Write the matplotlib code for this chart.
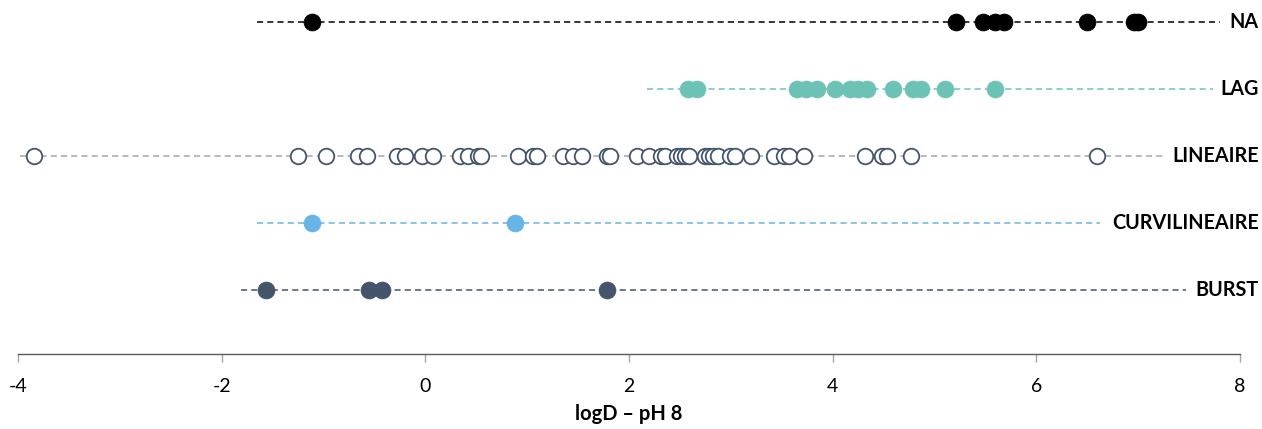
import matplotlib
matplotlib.use("Agg")
import matplotlib.pyplot as plt

plt.rcParams['font.family'] = ['Lato', 'DejaVu Sans']

categories = ["NA", "LAG", "LINEAIRE", "CURVILINEAIRE", "BURST"]

na_values = [-1.11, 5.21, 5.48, 5.59, 5.68, 6.50, 6.96, 7.00]
lag_values = [2.58, 2.67, 3.65, 3.74, 3.85, 4.02, 4.17, 4.25, 4.34, 4.59,
              4.79, 4.87, 5.10, 5.59]
lineaire_values = [-3.84, -1.25, -0.98, -0.66, -0.57, -0.28, -0.20, -0.03, 0.08,
                   0.34, 0.42, 0.52, 0.55, 0.91, 1.06, 1.10, 1.35, 1.45, 1.54,
                   1.78, 1.81, 2.08, 2.20, 2.31, 2.35, 2.47, 2.51, 2.55, 2.59,
                   2.75, 2.79, 2.82, 2.87, 2.99, 3.04, 3.20, 3.42, 3.52, 3.57,
                   3.72, 4.32, 4.48, 4.53, 4.77, 6.60]
curvi_values = [-1.11, 0.88]
burst_values = [-1.56, -0.55, -0.43, 1.78]

x_ticks = [-4, -2, 0, 2, 4, 6, 8]
x_label = "logD \u2013 pH 8"

series = [na_values, lag_values, lineaire_values, curvi_values, burst_values]
row_y = [5, 4, 3, 2, 1]
line_extent = [(-1.65, 7.80), (2.18, 7.73), (-3.98, 7.24), (-1.65, 6.63), (-1.81, 7.47)]
line_colors = ["#000000", "#6cc3b5", "#a6a6a6", "#66b5e6", "#44546a"]
marker_face = ["#000000", "#6cc3b5", "#ffffff", "#66b5e6", "#44546a"]
marker_edge = ["#000000", "#6cc3b5", "#44546a", "#66b5e6", "#44546a"]

fig = plt.figure(figsize=(12.62, 4.29), dpi=100)
ax = fig.add_axes([18/1262, 75/429, 1222/1262, 354/429])

for vals, y, ext, lc, fc, ec in zip(series, row_y, line_extent, line_colors,
                                    marker_face, marker_edge):
    ax.plot(ext, [y, y], linestyle=(0, (4, 2.7)), color=lc, linewidth=1.1, zorder=1)
    if fc == "#ffffff":
        ax.plot(vals, [y]*len(vals), 'o', markersize=11.2, markerfacecolor=fc,
                markeredgecolor=ec, markeredgewidth=1.3, linestyle='none',
                zorder=2, clip_on=False)
    else:
        ax.plot(vals, [y]*len(vals), 'o', markersize=12.2, markerfacecolor=fc,
                markeredgecolor=ec, markeredgewidth=0.5, linestyle='none',
                zorder=2, clip_on=False)

for cat, y in zip(categories, row_y):
    ax.text(1.0155, y, cat, transform=ax.get_yaxis_transform(), ha='right',
            va='center', fontsize=14.2, fontweight='bold', color='#000000',
            clip_on=False)

ax.set_xlim(-4, 8)
ax.set_ylim(0.045, 5.33)
ax.set_xticks(x_ticks)
ax.set_xticklabels([str(t) for t in x_ticks])
ax.set_yticks([])
for s in ['top', 'right', 'left']:
    ax.spines[s].set_visible(False)
ax.spines['bottom'].set_color('#595959')
ax.spines['bottom'].set_linewidth(1.0)
ax.tick_params(axis='x', direction='out', length=6, width=1.0, color='#a6a6a6',
               labelsize=14, labelcolor='#000000', pad=11)
ax.set_xlabel(x_label, fontsize=14.5, fontweight='bold', labelpad=7)

fig.savefig("out.png", dpi=100)
